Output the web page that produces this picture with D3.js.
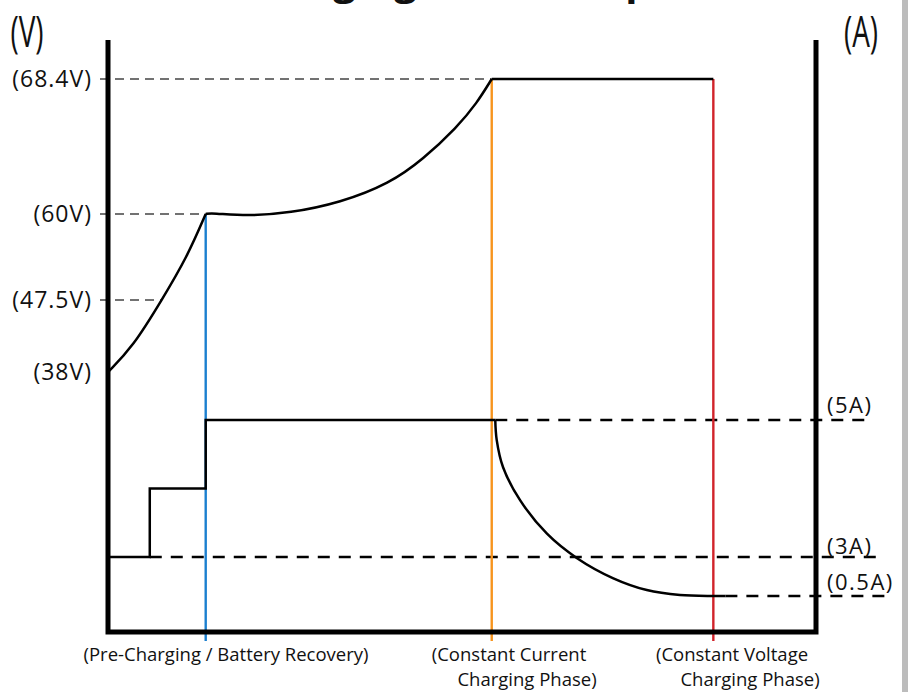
<!DOCTYPE html>
<html>
<head>
<meta charset="utf-8">
<script src="https://cdn.jsdelivr.net/npm/d3@7"></script>
<style>
  html, body { margin: 0; padding: 0; background: #fff; }
  svg { display: block; }
  text { font-family: "Open Sans", sans-serif; fill: #111; }
</style>
</head>
<body>
<div id="chart"></div>
<script>
(function () {

  // voltage curve, split by charging phase (time in % of the charge cycle)
  let preTime = [0, 3.5, 7.6, 11.2, 13.8];
  let preVolt = [38, 41.3, 47.5, 53.8, 60];
  let ccTime = [13.8, 14.7, 19.6, 25.7, 32.8, 39.8, 44.5, 49.3, 52.1, 54.2];
  let ccVolt = [60, 60.06, 59.7, 60.06, 60.7, 61.9, 63.4, 65.4, 66.9, 68.4];
  let cvTime = [54.2, 85.5];
  let cvVolt = [68.4, 68.4];

  // current curve
  let stepTime = [0, 5.9, 13.8, 54.7];
  let stepAmp = [3, 4, 5, 5];
  let decayTime = [54.7, 54.9, 55.8, 58.2, 62.0, 66.2, 71.3, 76.1, 80.8, 85.5, 87.2];
  let decayAmp = [5, 4.71, 4.31, 3.83, 3.34, 2.94, 1.65, 0.88, 0.56, 0.5, 0.5];

  // tick values
  let voltTicks = [38, 47.5, 60, 68.4];
  let ampTicks = [5, 3, 0.5];

  // phase boundaries
  let phaseTime = [13.8, 54.2, 85.5];
  let phaseStartVolt = [60, 68.4, 68.4];
  let phaseColor = ["#1b7fcf", "#f7941d", "#d1232a"];
  let phaseLabel = [
    ["(Pre-Charging / Battery Recovery)"],
    ["(Constant Current", "Charging Phase)"],
    ["(Constant Voltage", "Charging Phase)"]
  ];

  let width = 908, height = 692;
  let left = 108, right = 816, top = 40, bottom = 632;

  let svg = d3.select("#chart")
    .append("svg")
      .attr("width", width)
      .attr("height", height);

  // scales (the picture uses uneven spacing between its marked values)
  let x = d3.scaleLinear()
      .domain([0, 100])
      .range([left, right]);
  let yV = d3.scaleLinear()
      .domain([38, 47.5, 60, 68.4])
      .range([372, 300, 214, 79]);
  let yA = d3.scaleLinear()
      .domain([0.5, 3, 5])
      .range([596, 557, 420]);

  // title, cut off by the top edge as in the source image
  svg.append("text")
      .attr("x", 458)
      .attr("y", -5)
      .attr("text-anchor", "middle")
      .style("font-size", "40px")
      .style("font-weight", "bold")
      .text("Charging Curve Graph");

  // voltage guide lines
  svg.append("g")
    .selectAll("line")
    .data(voltTicks.filter(d => d > 38))
    .enter()
    .append("line")
      .attr("x1", left - 8)
      .attr("x2", d => x(d === 68.4 ? 54.2 : d === 60 ? 13.8 : 7.6))
      .attr("y1", d => yV(d))
      .attr("y2", d => yV(d))
      .attr("stroke", "#444")
      .attr("stroke-width", 1.6)
      .attr("stroke-dasharray", "9,6");

  // current guide lines
  let ampStart = { 5: 54.7, 3: 5.9, 0.5: 87.2 };
  let ampEnd = { 5: 57, 3: 67, 0.5: 69 };
  svg.append("g")
    .selectAll("line")
    .data(ampTicks)
    .enter()
    .append("line")
      .attr("x1", d => x(ampStart[d]))
      .attr("x2", d => right + ampEnd[d])
      .attr("y1", d => yA(d))
      .attr("y2", d => yA(d))
      .attr("stroke", "#000")
      .attr("stroke-width", 2.4)
      .attr("stroke-dasharray", "12,9");

  // phase lines
  svg.append("g")
    .selectAll("line")
    .data(phaseTime)
    .enter()
    .append("line")
      .attr("x1", d => x(d))
      .attr("x2", d => x(d))
      .attr("y1", (d, i) => yV(phaseStartVolt[i]))
      .attr("y2", bottom + 9)
      .attr("stroke", (d, i) => phaseColor[i])
      .attr("stroke-width", 2.4);

  // curves
  let line = d3.line()
      .x(d => x(d[0]))
      .y(d => d[1])
      .curve(d3.curveBasis);

  let voltSegs = [[preTime, preVolt], [ccTime, ccVolt], [cvTime, cvVolt]];
  voltSegs.forEach(function (s) {
    svg.append("path")
        .datum(s[0].map((t, i) => [t, yV(s[1][i])]))
        .attr("d", line)
        .attr("fill", "none")
        .attr("stroke", "#000")
        .attr("stroke-width", 2.5);
  });

  svg.append("path")
      .datum(stepTime.map((t, i) => [t, yA(stepAmp[i])]))
      .attr("d", line.curve(d3.curveStepAfter))
      .attr("fill", "none")
      .attr("stroke", "#000")
      .attr("stroke-width", 2.5);

  svg.append("path")
      .datum(decayTime.map((t, i) => [t, yA(decayAmp[i])]))
      .attr("d", line.curve(d3.curveCatmullRom.alpha(0.5)))
      .attr("fill", "none")
      .attr("stroke", "#000")
      .attr("stroke-width", 2.5);

  // axes frame
  let frame = d3.path();
  frame.moveTo(left, top);
  frame.lineTo(left, bottom);
  frame.lineTo(right, bottom);
  frame.lineTo(right, top);
  svg.append("path")
      .attr("d", frame.toString())
      .attr("fill", "none")
      .attr("stroke", "#000")
      .attr("stroke-width", 5)
      .attr("stroke-linejoin", "miter");

  // tick labels via axes, without their own lines
  let axV = svg.append("g")
      .attr("transform", "translate(" + (left - 16) + ",0)")
      .call(d3.axisLeft(yV).tickValues(voltTicks).tickSize(0).tickPadding(0)
        .tickFormat(d => "(" + d + "V)"));
  axV.select(".domain").remove();
  axV.selectAll("text")
      .style("font-family", "\"Open Sans\", sans-serif")
      .style("font-size", "23px")
      .style("letter-spacing", "1px")
      .attr("fill", "#111");

  let axA = svg.append("g")
      .attr("transform", "translate(" + (right + 11) + ",0)")
      .call(d3.axisRight(yA).tickValues(ampTicks).tickSize(0).tickPadding(0)
        .tickFormat(d => "(" + d + "A)"));
  axA.select(".domain").remove();
  axA.selectAll("text")
      .style("font-family", "\"Open Sans\", sans-serif")
      .style("font-size", "22px")
      .style("letter-spacing", "1.5px")
      .attr("fill", "#111")
      .attr("dy", d => d === 5 ? "-0.35em" : d === 3 ? "-0.15em" : "-0.3em");

  // unit labels
  svg.append("text")
      .attr("x", 27)
      .attr("y", 47)
      .attr("text-anchor", "middle")
      .style("font-size", "43px")
      .attr("transform", "translate(27,0) scale(0.65,1) translate(-27,0)")
      .text("(V)");
  svg.append("text")
      .attr("x", 861)
      .attr("y", 47)
      .attr("text-anchor", "middle")
      .style("font-size", "43px")
      .attr("transform", "translate(861,0) scale(0.65,1) translate(-861,0)")
      .text("(A)");

  // phase labels
  let labelX = [226, 509, 732];
  phaseLabel.forEach(function (lines, i) {
    let t = svg.append("text")
        .attr("text-anchor", "middle")
        .style("font-size", "18.5px")
        .attr("transform", "translate(" + labelX[i] + ",0)");
    lines.forEach(function (s, j) {
      t.append("tspan")
          .attr("x", j === 0 ? 0 : 18)
          .attr("y", 661 + j * 25)
          .text(s);
    });
  });

  // grey strip at the right edge
  svg.append("rect")
      .attr("x", 902)
      .attr("y", 0)
      .attr("width", 6)
      .attr("height", height)
      .attr("fill", "#bcbcbc");

})();
</script>
</body>
</html>
